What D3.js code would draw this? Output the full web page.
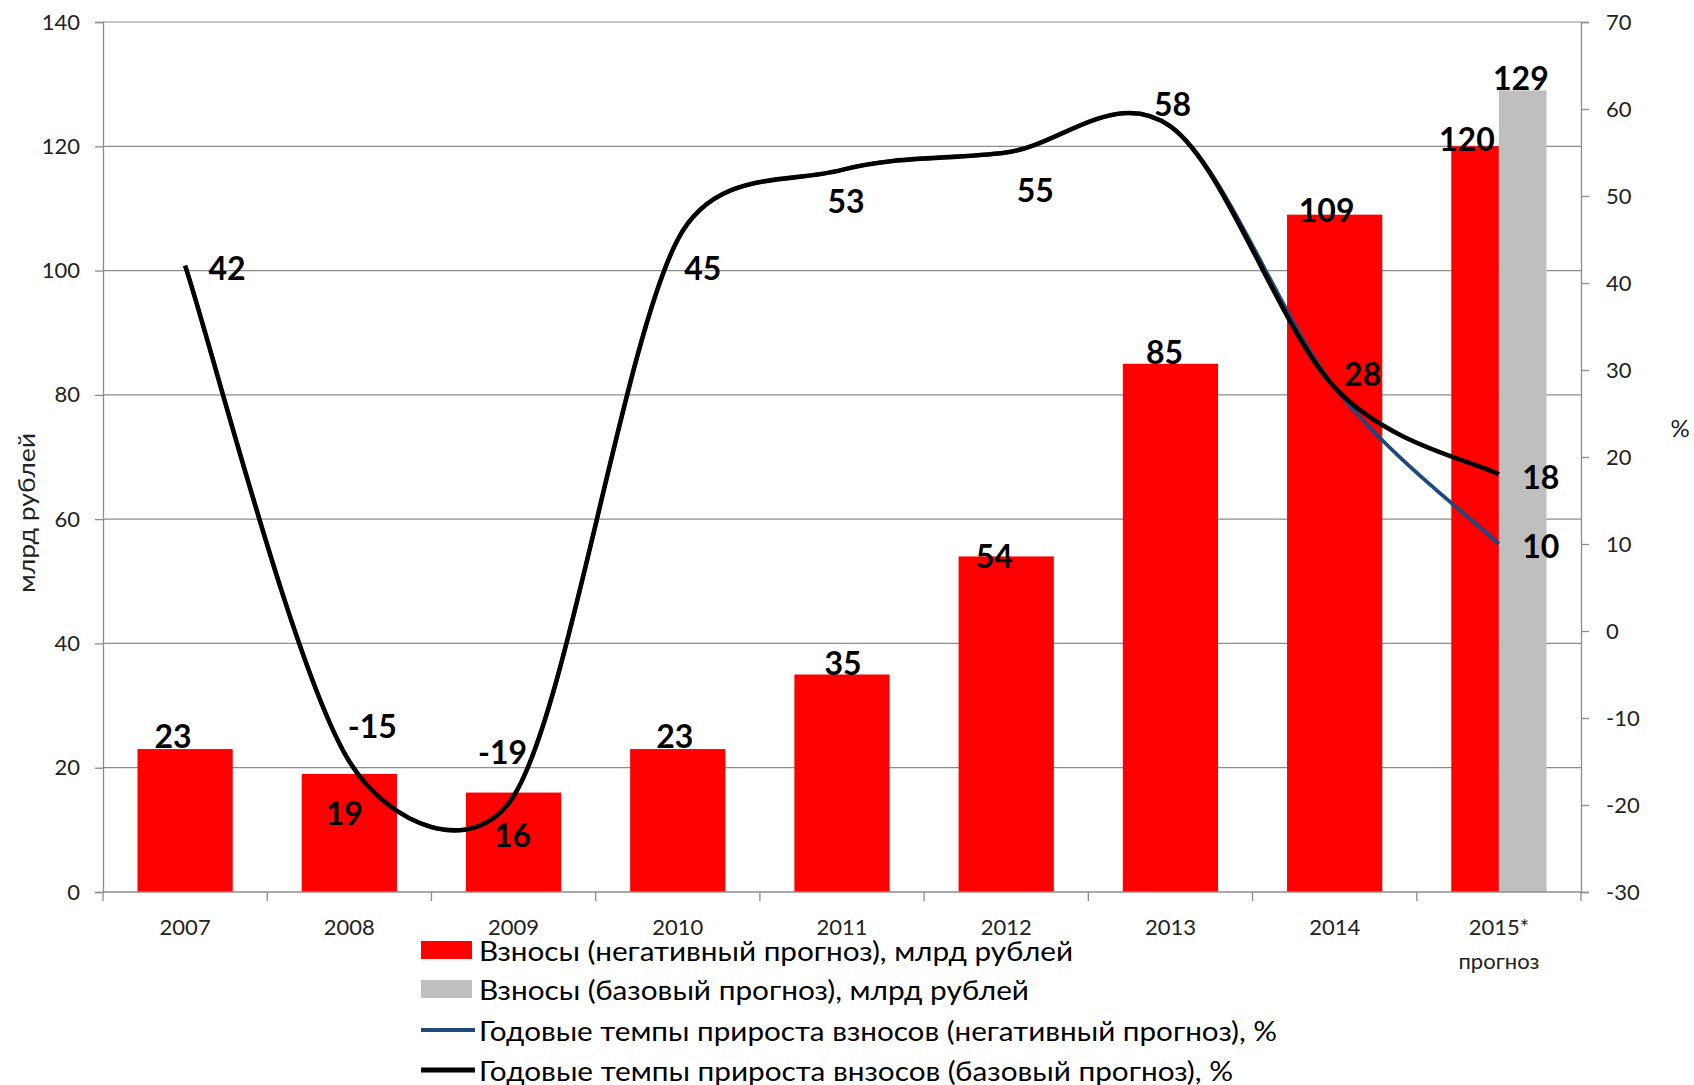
<!DOCTYPE html>
<html><head><meta charset="utf-8">
<script src="https://cdn.jsdelivr.net/npm/d3@7/dist/d3.min.js"></script>
<style>body{margin:0;background:#fff}svg{display:block}text{font-family:Lato,"Open Sans",sans-serif}</style>
</head><body><svg id="c" width="1694" height="1085"></svg>
<script>
// ---- data ----
const categories = ["2007","2008","2009","2010","2011","2012","2013","2014","2015*"];
const contribNegative = [23,19,16,23,35,54,85,109,120];      // red bars
const contribBase     = [null,null,null,null,null,null,null,null,129]; // gray bar
const growthNegative  = [42,-15,-19,45,53,55,58,28,10];       // blue line
const growthBase      = [42,-15,-19,45,53,55,58,28,18];       // black line
const leftTicks  = [0,20,40,60,80,100,120,140];
const rightTicks = [-30,-20,-10,0,10,20,30,40,50,60,70];
const legendLabels = [
  "Взносы (негативный прогноз), млрд рублей",
  "Взносы (базовый прогноз), млрд рублей",
  "Годовые темпы прироста взносов (негативный прогноз), %",
  "Годовые темпы прироста внзосов (базовый прогноз), %"
];
// label offsets (layout only, px)
const barLabelOff = [[-12,-14],[-5,39],[-1,42],[-3,-14],[1,-12],[-12,-1],[-6,-12],[-8,-5],[-32,-8]];
const baseBarLabelOff = [[0,0],[0,0],[0,0],[0,0],[0,0],[0,0],[0,0],[0,0],[22,-13]];
const lineLabelOff = [[42,2],[23,-36],[-11,-45],[25,28],[4,31],[29,37],[2,-23],[28,-14],[42,2]];
const negEndOff = [42,1];

// ---- layout ----
const svg = d3.select("#c");
const L = 103, R = 1581, T = 22, B = 892;
const x = d3.scaleBand().domain(categories).range([L, R]);
const yL = d3.scaleLinear().domain([0,140]).range([B, T]);
const yR = d3.scaleLinear().domain([-30,70]).range([B, T]);
const bw = x.bandwidth()*0.58;
const cx = c => x(c) + x.bandwidth()/2;

// gridlines
svg.append("g").selectAll("line").data(leftTicks.filter(t=>t>0)).join("line")
  .attr("x1",L).attr("x2",R).attr("y1",d=>yL(d)).attr("y2",d=>yL(d))
  .attr("stroke","#8c8c8c").attr("stroke-width",1.2);

// bars
const full = categories.map((c,i)=>({c, v:contribNegative[i], both: contribBase[i]!=null}));
svg.append("g").selectAll("rect").data(full).join("rect")
  .attr("x",d=> cx(d.c)-bw/2)
  .attr("width",d=> d.both ? bw/2 : bw)
  .attr("y",d=>yL(d.v)).attr("height",d=>yL(0)-yL(d.v)).attr("fill","#ff0000");
svg.append("g").selectAll("rect").data(categories.map((c,i)=>({c,v:contribBase[i]})).filter(d=>d.v!=null)).join("rect")
  .attr("x",d=>cx(d.c)).attr("width",bw/2)
  .attr("y",d=>yL(d.v)).attr("height",d=>yL(0)-yL(d.v)).attr("fill","#bfbfbf");

// axes
const axisColor = "#8c8c8c";
const fmt = d => String(d);
const gL = svg.append("g").attr("transform",`translate(${L},0)`).call(d3.axisLeft(yL).tickValues(leftTicks).tickFormat(fmt).tickSize(8).tickPadding(15));
const gR = svg.append("g").attr("transform",`translate(${R},0)`).call(d3.axisRight(yR).tickValues(rightTicks).tickFormat(fmt).tickSize(8).tickPadding(17));
const gX = svg.append("g").attr("transform",`translate(0,${B})`).call(d3.axisBottom(x).tickSize(0));
[gL,gR,gX].forEach(g=>{
  g.select(".domain").attr("stroke",axisColor).attr("stroke-width",1.3);
  g.selectAll(".tick line").attr("stroke",axisColor).attr("stroke-width",1.3);
  g.selectAll("text").attr("font-family","Lato, sans-serif").attr("font-size",22).attr("fill","#222");
});
gX.select(".domain").attr("d",`M${L},0H${R}`);
gX.selectAll("text").attr("dy","0.35em").attr("y",35);
// category boundary ticks
svg.append("g").selectAll("line").data(d3.range(categories.length+1)).join("line")
  .attr("x1",i=>L+i*x.bandwidth()).attr("x2",i=>L+i*x.bandwidth())
  .attr("y1",B).attr("y2",B+9).attr("stroke",axisColor).attr("stroke-width",1.3);
svg.append("text").attr("x",cx(categories[8])).attr("y",960).attr("text-anchor","middle")
  .attr("dominant-baseline","central").attr("font-size",22).attr("fill","#222").text("прогноз");

// axis titles
svg.append("text").attr("transform","translate(26,513) rotate(-90)").attr("text-anchor","middle")
  .attr("dominant-baseline","central").attr("font-size",23).attr("textLength",160).attr("lengthAdjust","spacingAndGlyphs")
  .attr("fill","#222").text("млрд рублей");
svg.append("text").attr("x",1680).attr("y",427).attr("text-anchor","middle")
  .attr("dominant-baseline","central").attr("font-size",24).attr("fill","#222").text("%");

// smoothed line (Catmull-Rom bezier, arms capped relative to adjacent segment length)
function smoothPath(vals){
  const p = vals.map((v,i)=>[cx(categories[i]), yR(v)]);
  const n = p.length, cap = 0.45;
  const ctrl = p.map((pt,i)=>{
    const prev = p[Math.max(0,i-1)], next = p[Math.min(n-1,i+1)];
    const ax = (next[0]-prev[0])/6, ay = (next[1]-prev[1])/6;
    const a = Math.hypot(ax, ay) || 1;
    const d1 = Math.hypot(pt[0]-prev[0], pt[1]-prev[1]);
    const d2 = Math.hypot(next[0]-pt[0], next[1]-pt[1]);
    const sl = Math.min(1, cap*d1/a), sr = Math.min(1, cap*d2/a);
    return {l:[pt[0]-ax*sl, pt[1]-ay*sl], r:[pt[0]+ax*sr, pt[1]+ay*sr]};
  });
  const path = d3.path();
  path.moveTo(p[0][0], p[0][1]);
  for(let i=1;i<n;i++){
    path.bezierCurveTo(ctrl[i-1].r[0], ctrl[i-1].r[1], ctrl[i].l[0], ctrl[i].l[1], p[i][0], p[i][1]);
  }
  return path.toString();
}
svg.append("path").attr("d",smoothPath(growthNegative)).attr("fill","none").attr("stroke","#1f497d").attr("stroke-width",3.8);
svg.append("path").attr("d",smoothPath(growthBase)).attr("fill","none").attr("stroke","#000").attr("stroke-width",4.6);

// labels
const lab = svg.append("g").attr("font-weight","bold").attr("font-size",32).attr("fill","#000")
  .attr("text-anchor","middle").attr("dominant-baseline","central");
contribNegative.forEach((v,i)=>{
  lab.append("text").attr("x",cx(categories[i])+barLabelOff[i][0]).attr("y",yL(v)+barLabelOff[i][1]).text(v);
});
contribBase.forEach((v,i)=>{ if(v==null) return;
  lab.append("text").attr("x",cx(categories[i])+baseBarLabelOff[i][0]).attr("y",yL(v)+baseBarLabelOff[i][1]).text(v);
});
growthBase.forEach((v,i)=>{
  lab.append("text").attr("x",cx(categories[i])+lineLabelOff[i][0]).attr("y",yR(v)+lineLabelOff[i][1]).text(v);
});
{ const i = growthNegative.length-1;
  lab.append("text").attr("x",cx(categories[i])+negEndOff[0]).attr("y",yR(growthNegative[i])+negEndOff[1]).text(growthNegative[i]); }

// legend
const legY = [950, 989, 1030, 1070];
const legW = [594, 550, 798, 754];
const lg = svg.append("g");
legendLabels.forEach((t,i)=>{
  const y = legY[i];
  if(i===0) lg.append("rect").attr("x",421).attr("y",y-9).attr("width",51).attr("height",18).attr("fill","#ff0000");
  if(i===1) lg.append("rect").attr("x",421).attr("y",y-9).attr("width",51).attr("height",18).attr("fill","#bfbfbf");
  if(i===2) lg.append("line").attr("x1",421).attr("x2",475).attr("y1",y).attr("y2",y).attr("stroke","#1f497d").attr("stroke-width",3.8);
  if(i===3) lg.append("line").attr("x1",421).attr("x2",475).attr("y1",y).attr("y2",y).attr("stroke","#000").attr("stroke-width",5);
  lg.append("text").attr("x",479).attr("y",y).attr("dominant-baseline","central")
    .attr("font-size",27).attr("fill","#000").attr("textLength",legW[i]).attr("lengthAdjust","spacingAndGlyphs").text(t);
});
</script></body></html>
